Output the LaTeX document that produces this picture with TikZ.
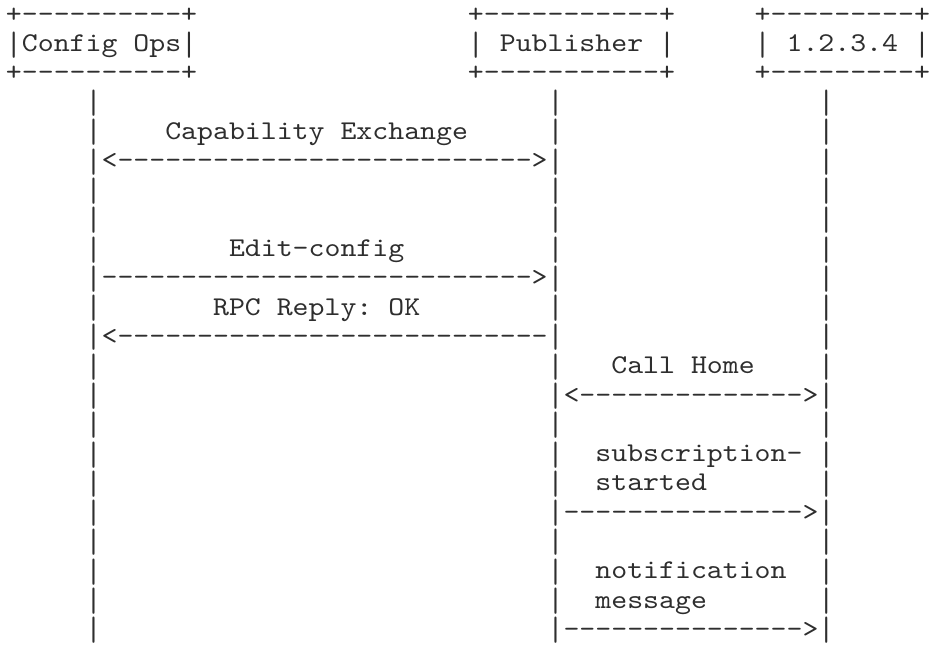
\documentclass[tikz,border=0pt]{standalone}
\usepackage{graphicx}
\usepackage{fontspec}
% typewriter face for the character-grid sequence chart
\setmonofont{lmmono10-regular.otf}[FakeStretch=1.12]
% taller vertical bar so stacked rows read as one lifeline
\newcommand\lifebar{\raisebox{-2.6pt}{\scalebox{1}[1.25]{|}}}
\begin{document}
\begin{tikzpicture}
\tikzset{
  cell/.style={font=\ttfamily\fontsize{20.32pt}{21.96pt}\selectfont,
               text=black!82, inner sep=0pt, outer sep=0pt, anchor=base west},
}
\useasboundingbox (0pt,0pt) rectangle (699pt,-483pt);
% one unit = one character column / one text row
\begin{scope}[x=11.9475pt, y=-21.96pt, shift={(4.5pt,-16.8pt)}]
  % participant boxes
  \node[cell] (opsTop) at (0,0) {+----------+};
  \node[cell] (opsMid) at (0,1) {\lifebar Config Ops\lifebar};
  \node[cell] (opsBot) at (0,2) {+----------+};
  \node[cell] (pubTop) at (29,0) {+-----------+};
  \node[cell] (pubMid) at (29,1) {\lifebar\ Publisher \lifebar};
  \node[cell] (pubBot) at (29,2) {+-----------+};
  \node[cell] (rcvTop) at (47,0) {+---------+};
  \node[cell] (rcvMid) at (47,1) {\lifebar\ 1.2.3.4 \lifebar};
  \node[cell] (rcvBot) at (47,2) {+---------+};
  % lifelines
  \foreach \r in {3,...,21}
    \foreach \c/\n in {5/ops,34/pub,51/rcv}
      \node[cell] (\n line\r) at (\c,\r) {\lifebar};
  % messages between Config Ops and Publisher
  \node[cell] (capLabel) at (10,4) {Capability Exchange};
  \node[cell] (capArrow) at (6,5) {<-------------------------->};
  \node[cell] (editLabel) at (14,8) {Edit-config};
  \node[cell] (editArrow) at (6,9) {--------------------------->};
  \node[cell] (okLabel) at (13,10) {RPC Reply: OK};
  \node[cell] (okArrow) at (6,11) {<---------------------------};
  % messages between Publisher and 1.2.3.4
  \node[cell] (homeLabel) at (38,12) {Call Home};
  \node[cell] (homeArrow) at (35,13) {<-------------->};
  \node[cell] (subLabelA) at (37,15) {subscription-};
  \node[cell] (subLabelB) at (37,16) {started};
  \node[cell] (subArrow) at (35,17) {--------------->};
  \node[cell] (notLabelA) at (37,19) {notification};
  \node[cell] (notLabelB) at (37,20) {message};
  \node[cell] (notArrow) at (35,21) {--------------->};
\end{scope}
\end{tikzpicture}
\end{document}
